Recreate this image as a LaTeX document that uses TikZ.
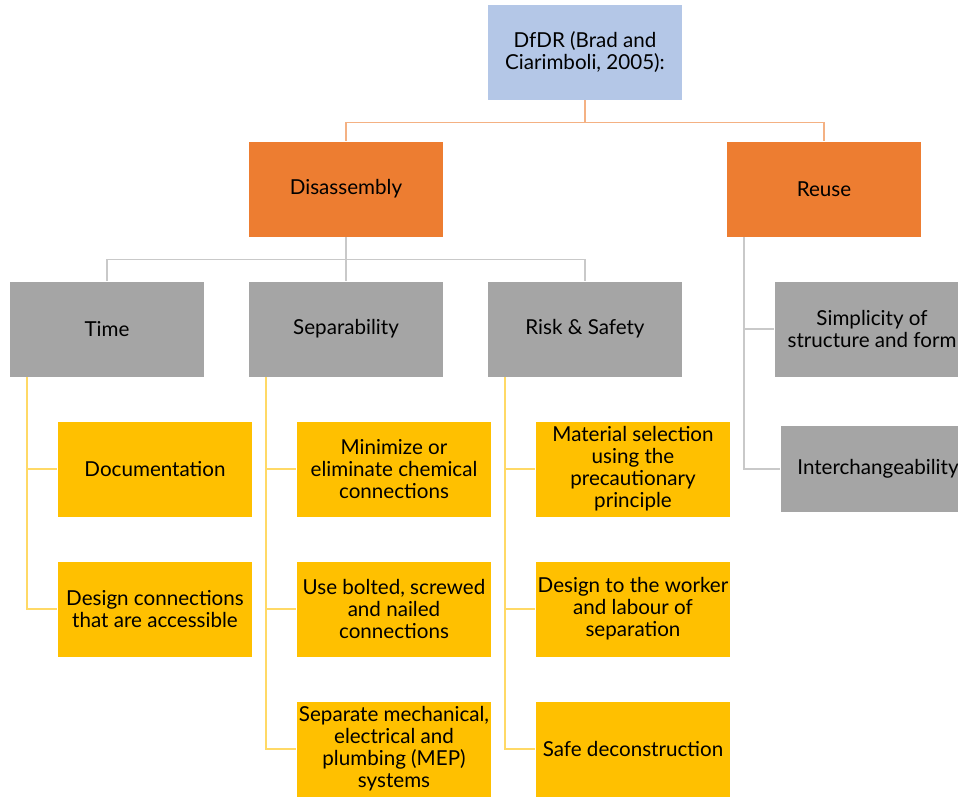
\documentclass[tikz,border=0pt]{standalone}
\usepackage{fontspec}
\setmainfont{Lato}
\usetikzlibrary{positioning}
\definecolor{rootblue}{HTML}{B4C7E7}
\definecolor{mainorange}{HTML}{ED7D31}
\definecolor{subgrey}{HTML}{A5A5A5}
\definecolor{leafyellow}{HTML}{FFC000}
\definecolor{orangeline}{HTML}{F4B183}
\definecolor{greyline}{HTML}{C9C9C9}
\definecolor{yellowline}{HTML}{FFD966}

\begin{document}
\begin{tikzpicture}[x=0.5pt,y=-0.5pt,node distance=70pt,
    box/.style={rectangle, draw=white, line width=0.4pt, inner sep=0pt,
        minimum width=97.5pt, minimum height=48pt, align=center, text=black,
        font=\fontsize{10.3}{11}\selectfont},
    rootbox/.style={box, fill=rootblue},
    mainbox/.style={box, fill=mainorange},
    subbox/.style={box, fill=subgrey},
    leafbox/.style={box, fill=leafyellow},
    link/.style={line width=0.8pt}]
            \useasboundingbox (0,0) rectangle (958,798);
            \clip (0,0) rectangle (958,798);
            \node[rootbox] (dfdr) at (585,52) {DfDR (Brad and\\Ciarimboli, 2005):};
            \node[mainbox, below of=dfdr, xshift=-119.5pt, yshift=1.5pt] (dis) {Disassembly};
            \node[mainbox, below of=dfdr, xshift=119.5pt, yshift=1.5pt] (reuse) {Reuse};
            \node[subbox, below of=dis, xshift=-119.5pt] (time) {Time};
            \node[subbox, below of=dis] (sep) {Separability};
            \node[subbox, below of=dis, xshift=119.5pt] (risk) {Risk \& Safety};
            \node[subbox, below of=reuse, xshift=24pt] (simp) {Simplicity of\\structure and form};
            \node[subbox, below of=simp, xshift=3pt, minimum height=43.5pt] (inter) {Interchangeability};
            \node[leafbox, below of=time, xshift=24pt] (doc) {Documentation};
            \node[leafbox, below of=doc] (acc) {Design connections\\that are accessible};
            \node[leafbox, below of=sep, xshift=24pt] (chem) {Minimize or\\eliminate chemical\\connections};
            \node[leafbox, below of=chem] (bolt) {Use bolted, screwed\\and nailed\\connections};
            \node[leafbox, below of=bolt] (mep) {Separate mechanical,\\electrical and\\plumbing (MEP)\\systems};
            \node[leafbox, below of=risk, xshift=24pt] (mat) {Material selection\\using the\\precautionary\\principle};
            \node[leafbox, below of=mat] (work) {Design to the worker\\and labour of\\separation};
            \node[leafbox, below of=work] (safe) {Safe deconstruction};
    	    \draw[link, orangeline] (dfdr.south) -- ++(0,22) -| (dis.north);
    	    \draw[link, orangeline] (dfdr.south) -- ++(0,22) -| (reuse.north);
    	    \draw[link, greyline] (dis.south) -- ++(0,22) -| (time.north);
    	    \draw[link, greyline] (dis.south) -- (sep.north);
    	    \draw[link, greyline] (dis.south) -- ++(0,22) -| (risk.north);
    	    \draw[link, greyline] ([xshift=9pt]reuse.south west) |- (simp.west);
    	    \draw[link, greyline] ([xshift=9pt]reuse.south west) |- (inter.west);
    	    \draw[link, yellowline] ([xshift=9pt]time.south west) |- (doc.west);
    	    \draw[link, yellowline] ([xshift=9pt]time.south west) |- (acc.west);
    	    \draw[link, yellowline] ([xshift=9pt]sep.south west) |- (chem.west);
    	    \draw[link, yellowline] ([xshift=9pt]sep.south west) |- (bolt.west);
    	    \draw[link, yellowline] ([xshift=9pt]sep.south west) |- (mep.west);
    	    \draw[link, yellowline] ([xshift=9pt]risk.south west) |- (mat.west);
    	    \draw[link, yellowline] ([xshift=9pt]risk.south west) |- (work.west);
    	    \draw[link, yellowline] ([xshift=9pt]risk.south west) |- (safe.west);
	    \end{tikzpicture}
\end{document}
